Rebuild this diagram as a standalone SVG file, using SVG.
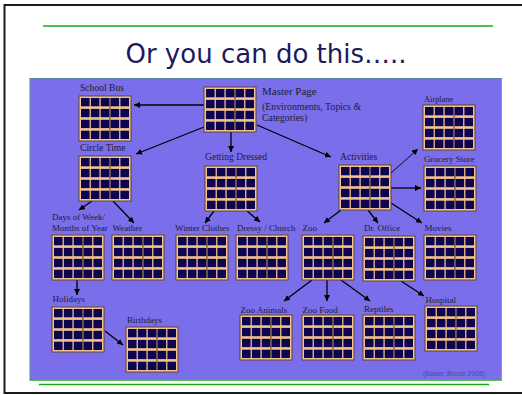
<svg xmlns="http://www.w3.org/2000/svg" xmlns:xlink="http://www.w3.org/1999/xlink" width="522" height="395" viewBox="0 0 522 395">
<style>
.lbl{font-family:"Liberation Serif",serif;font-size:9px;fill:#1c1c38}
.lbl2{font-family:"Liberation Serif",serif;font-size:9.6px;fill:#1c1c38}
.title{font-family:"DejaVu Sans",Verdana,sans-serif;font-size:26px;fill:#1c1a5c}
.cite{font-family:"Liberation Sans",Arial,sans-serif;font-size:7px;fill:#4c4ca4}
.ar{stroke:#000;stroke-width:1.3;fill:none;marker-end:url(#ah)}
.ar1{stroke:#000;stroke-width:0.9;fill:none;marker-end:url(#ah)}
.gl{stroke:#18a818;stroke-width:1.5}
</style>
<defs>
<marker id="ah" markerUnits="userSpaceOnUse" markerWidth="7" markerHeight="6" refX="6" refY="3" orient="auto">
<path d="M0,0 L6,3 L0,6 Z" fill="#000"/>
</marker>
<g id="grid">
<rect x="0" y="0" width="52" height="45" fill="#f6c38e" stroke="#5a4535" stroke-width="1"/>
<rect x="30.3" y="2" width="1.25" height="41" fill="#7a5a3c"/>
<g fill="#0c0650">
<rect x="2" y="2" width="8.6" height="8.3"/><rect x="11.85" y="2" width="8.6" height="8.3"/><rect x="21.7" y="2" width="8.6" height="8.3"/><rect x="31.55" y="2" width="8.6" height="8.3"/><rect x="41.4" y="2" width="8.6" height="8.3"/>
<rect x="2" y="12.9" width="8.6" height="8.3"/><rect x="11.85" y="12.9" width="8.6" height="8.3"/><rect x="21.7" y="12.9" width="8.6" height="8.3"/><rect x="31.55" y="12.9" width="8.6" height="8.3"/><rect x="41.4" y="12.9" width="8.6" height="8.3"/>
<rect x="2" y="23.8" width="8.6" height="8.3"/><rect x="11.85" y="23.8" width="8.6" height="8.3"/><rect x="21.7" y="23.8" width="8.6" height="8.3"/><rect x="31.55" y="23.8" width="8.6" height="8.3"/><rect x="41.4" y="23.8" width="8.6" height="8.3"/>
<rect x="2" y="34.7" width="8.6" height="8.3"/><rect x="11.85" y="34.7" width="8.6" height="8.3"/><rect x="21.7" y="34.7" width="8.6" height="8.3"/><rect x="31.55" y="34.7" width="8.6" height="8.3"/><rect x="41.4" y="34.7" width="8.6" height="8.3"/>
</g>
</g>
</defs>
<rect x="0" y="0" width="522" height="395" fill="#fff"/>
<path d="M523,5 H4.5 V393 H523" fill="none" stroke="#1a1a1a" stroke-width="2"/>
<line class="gl" x1="43" y1="26" x2="493" y2="26"/>
<text class="title" x="266" y="63" text-anchor="middle">Or you can do this…..</text>
<rect x="30" y="78.5" width="471.5" height="302" fill="#7a6eea" stroke="#5d84a8" stroke-width="1"/>
<line x1="30" y1="380.5" x2="501.5" y2="380.5" stroke="#5ec060" stroke-width="1"/>
<line x1="501.5" y1="79" x2="501.5" y2="381" stroke="#5ec060" stroke-width="1"/>
<line class="gl" x1="39" y1="384.5" x2="489" y2="384.5"/>

<g id="connectors">
<path class="ar" d="M204,105 L134,105"/>
<path class="ar" d="M204,127 L136,154"/>
<path class="ar" d="M231,132 L231,152"/>
<path class="ar" d="M257,125 L331,157"/>
<path class="ar1" d="M391,173 L418,149"/>
<path class="ar" d="M391,188 L421,188"/>
<path class="ar" d="M341,210 L324,223"/>
<path class="ar" d="M368,210 L378,223"/>
<path class="ar" d="M391,203 L422,223"/>
<path class="ar" d="M92,201 L79,210"/>
<path class="ar" d="M113,201 L134,223"/>
<path class="ar" d="M214,211 L205,223"/>
<path class="ar" d="M247,211 L260,222"/>
<path class="ar" d="M77,280 L77,295"/>
<path class="ar" d="M105,331 L123,345"/>
<path class="ar" d="M312,280 L284,301"/>
<path class="ar" d="M327,280 L327,301"/>
<path class="ar" d="M341,280 L370,301"/>
<path class="ar" d="M401,281 L424,296"/>
</g>

<g id="master"><use xlink:href="#grid" x="204" y="87"/>
<text class="lbl" x="262" y="95" style="font-size:11px">Master Page</text>
<text class="lbl" x="262" y="109.5" style="font-size:9.8px">(Environments,  Topics &amp;</text>
<text class="lbl" x="262" y="121" style="font-size:9.8px">Categories)</text></g>
<g id="schoolbus"><use xlink:href="#grid" x="79" y="96"/><text class="lbl2" x="80" y="91">School Bus</text></g>
<g id="circletime"><use xlink:href="#grid" x="79" y="156"/><text class="lbl2" x="80" y="151">Circle  Time</text></g>
<g id="gettingdressed"><use xlink:href="#grid" x="205" y="166"/><text class="lbl2" x="205" y="160">Getting  Dressed</text></g>
<g id="activities"><use xlink:href="#grid" x="339" y="165"/><text class="lbl2" x="340" y="160">Activities</text></g>
<g id="airplane"><use xlink:href="#grid" x="423" y="105"/><text class="lbl" x="424" y="101.5" style="font-size:8.4px">Airplane</text></g>
<g id="grocery"><use xlink:href="#grid" x="424" y="166"/><text class="lbl" x="424" y="162">Grocery Store</text></g>
<g id="days"><use xlink:href="#grid" x="52" y="235"/><text class="lbl" x="52" y="220">Days of Week/</text><text class="lbl" x="52" y="231">Months of Year</text></g>
<g id="weather"><use xlink:href="#grid" x="112" y="235"/><text class="lbl" x="112.5" y="231">Weather</text></g>
<g id="winter"><use xlink:href="#grid" x="176" y="235"/><text class="lbl" x="175" y="231">Winter Clothes</text></g>
<g id="dressy"><use xlink:href="#grid" x="236" y="235"/><text class="lbl" x="237" y="231">Dressy / Church</text></g>
<g id="zoo"><use xlink:href="#grid" x="302" y="235"/><text class="lbl" x="302.5" y="231">Zoo</text></g>
<g id="droffice"><use xlink:href="#grid" x="363" y="236"/><text class="lbl" x="364" y="231">Dr. Office</text></g>
<g id="movies"><use xlink:href="#grid" x="424" y="235"/><text class="lbl" x="424.5" y="231">Movies</text></g>
<g id="holidays"><use xlink:href="#grid" x="52" y="307"/><text class="lbl" x="52.5" y="302">Holidays</text></g>
<g id="birthdays"><use xlink:href="#grid" x="126" y="327"/><text class="lbl" x="127" y="323">Birthdays</text></g>
<g id="zooanimals"><use xlink:href="#grid" x="240" y="315"/><text class="lbl" x="240.5" y="312.5">Zoo Animals</text></g>
<g id="zoofood"><use xlink:href="#grid" x="302" y="315"/><text class="lbl" x="302.5" y="312.5">Zoo Food</text></g>
<g id="reptiles"><use xlink:href="#grid" x="363" y="315"/><text class="lbl" x="364" y="311.5">Reptiles</text></g>
<g id="hospital"><use xlink:href="#grid" x="425" y="306"/><text class="lbl" x="425.5" y="302.5">Hospital</text></g>

<text class="cite" x="423" y="376">(Baker, Bruce 2005)</text>
</svg>
